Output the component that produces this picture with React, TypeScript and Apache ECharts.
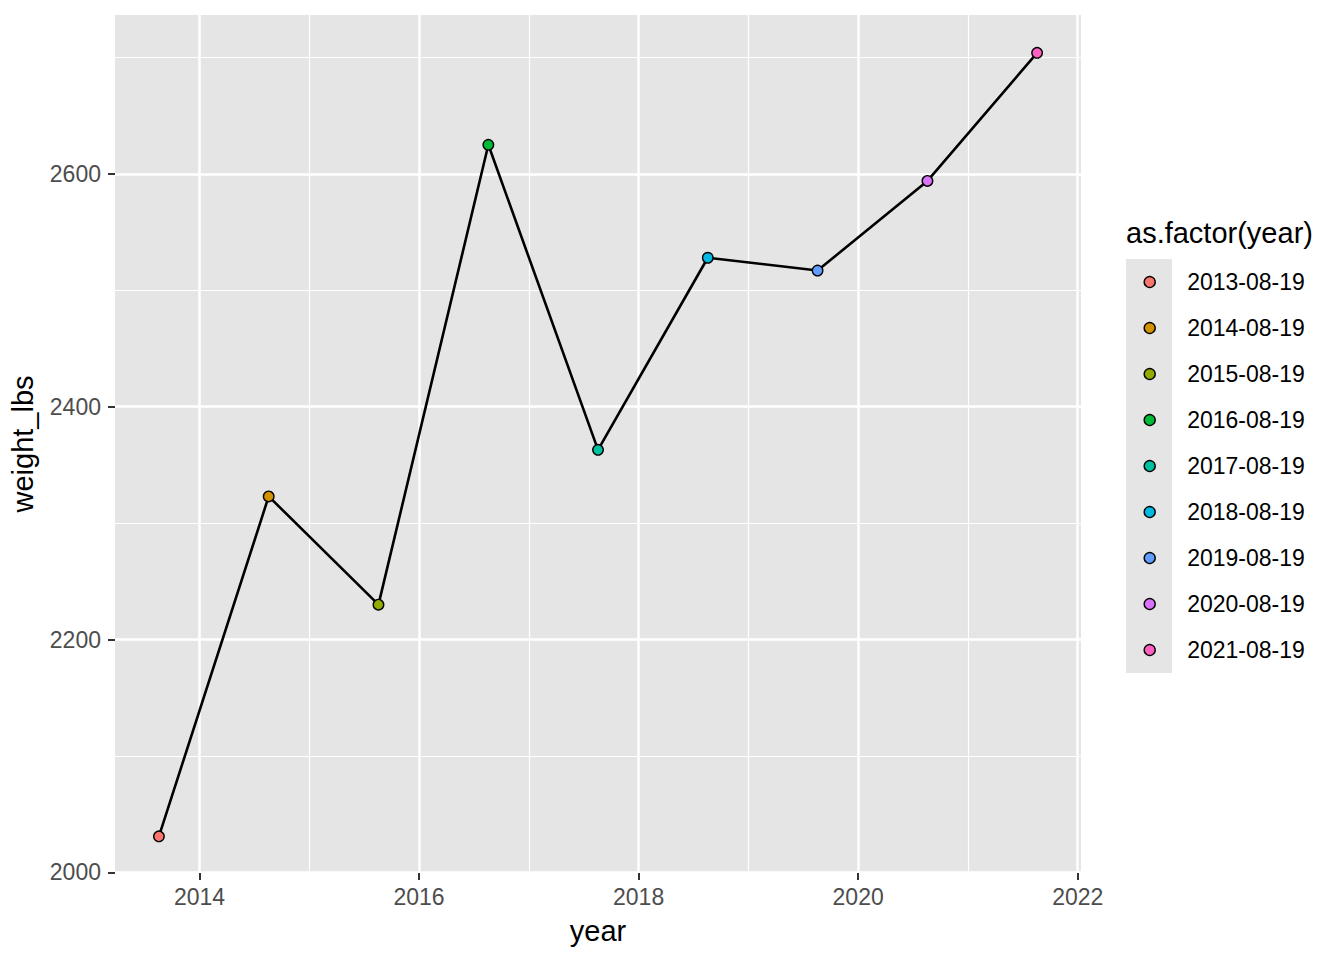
import React, { useEffect, useRef } from "react";
import * as echarts from "echarts";

const dates = [
  "2013-08-19", "2014-08-19", "2015-08-19", "2016-08-19", "2017-08-19",
  "2018-08-19", "2019-08-19", "2020-08-19", "2021-08-19",
];
const weights = [2031, 2323, 2230, 2625, 2363, 2528, 2517, 2594, 2704];
const colors = [
  "#F8766D", "#D39200", "#93AA00", "#00BA38", "#00C19F",
  "#00B9E3", "#619CFF", "#DB72FB", "#FF61C3",
];
const xMajor = [2014, 2016, 2018, 2020, 2022];
const xMinor = [2015, 2017, 2019, 2021];
const yMajor = [2000, 2200, 2400, 2600];
const yMinor = [2100, 2300, 2500, 2700];

function decimalYear(d: string): number {
  const [y, m, day] = d.split("-").map(Number);
  const start = Date.UTC(y, 0, 1);
  const end = Date.UTC(y + 1, 0, 1);
  const t = Date.UTC(y, m - 1, day);
  return y + (t - start) / (end - start);
}

const FONT = "Liberation Sans, Arial, Helvetica, sans-serif";
const PANEL = "#E5E5E5";

export default function App() {
  const ref = useRef<HTMLDivElement>(null);
  useEffect(() => {
    if (!ref.current) return;
    const chart = echarts.init(ref.current, undefined, { renderer: "svg" });
    const xs = dates.map(decimalYear);
    const X_MIN = 2013.23;
    const X_MAX = 2022.03;
    const Y_MIN = 1999.5;
    const Y_MAX = 2736.5;

    const pointSeries = dates.map((d, i) => ({
      name: d,
      type: "scatter",
      xAxisIndex: 0,
      yAxisIndex: 0,
      symbol: "circle",
      symbolSize: 10.5,
      z: 5,
      itemStyle: { color: colors[i], borderColor: "#000", borderWidth: 1.4, opacity: 1 },
      data: [[xs[i], weights[i]]],
    }));

    const option: any = {
      animation: false,
      textStyle: { fontFamily: FONT },
      grid: {
        left: 115,
        top: 15,
        width: 966,
        height: 858,
        show: true,
        backgroundColor: PANEL,
        borderWidth: 0,
        containLabel: false,
      },
      xAxis: [
        {
          type: "value",
          min: X_MIN,
          max: X_MAX,
          name: "year",
          nameLocation: "middle",
          nameGap: 43,
          nameTextStyle: { fontFamily: FONT, fontSize: 29, color: "#000" },
          axisLine: { show: false },
          axisTick: {
            show: true,
            length: 7,
            lineStyle: { color: "#333333", width: 2 },
            customValues: xMajor,
          },
          axisLabel: {
            show: true,
            customValues: xMajor,
            fontFamily: FONT,
            fontSize: 23,
            color: "#4D4D4D",
            margin: 12,
            formatter: (v: number) => String(Math.round(v)),
          },
          splitLine: { show: true, lineStyle: { color: "#FFFFFF", width: 2.5 } },
        },
        {
          type: "value",
          min: X_MIN,
          max: X_MAX,
          axisLine: { show: false },
          axisTick: { show: false, customValues: xMinor },
          axisLabel: { show: false, customValues: xMinor },
          splitLine: { show: true, lineStyle: { color: "#FFFFFF", width: 1.2 } },
        },
      ],
      yAxis: [
        {
          type: "value",
          min: Y_MIN,
          max: Y_MAX,
          name: "weight_lbs",
          nameLocation: "middle",
          nameGap: 78,
          nameRotate: 90,
          nameTextStyle: { fontFamily: FONT, fontSize: 29, color: "#000" },
          axisLine: { show: false },
          axisTick: {
            show: true,
            length: 7,
            lineStyle: { color: "#333333", width: 2 },
            customValues: yMajor,
          },
          axisLabel: {
            show: true,
            customValues: yMajor,
            fontFamily: FONT,
            fontSize: 23,
            color: "#4D4D4D",
            margin: 14,
            formatter: (v: number) => String(Math.round(v)),
          },
          splitLine: { show: true, lineStyle: { color: "#FFFFFF", width: 2.5 } },
        },
        {
          type: "value",
          min: Y_MIN,
          max: Y_MAX,
          axisLine: { show: false },
          axisTick: { show: false, customValues: yMinor },
          axisLabel: { show: false, customValues: yMinor },
          splitLine: { show: true, lineStyle: { color: "#FFFFFF", width: 1.2 } },
        },
      ],
      legend: {
        orient: "vertical",
        left: 1138.5,
        top: 265.5,
        itemWidth: 11,
        itemHeight: 11,
        itemGap: 23,
        icon: "circle",
        data: dates,
        itemStyle: { borderColor: "#000", borderWidth: 1.4 },
        textStyle: {
          fontFamily: FONT,
          fontSize: 23,
          color: "#000",
          padding: [0, 0, 0, 27],
        },
        selectedMode: false,
      },
      graphic: [
        {
          type: "rect",
          left: 1126,
          top: 259,
          shape: { width: 46, height: 414 },
          style: { fill: PANEL },
          z: -10,
          silent: true,
        },
        {
          type: "text",
          left: 1126,
          top: 218,
          style: {
            text: "as.factor(year)",
            fontFamily: FONT,
            fontSize: 29,
            fill: "#000",
          },
        },
      ],
      series: [
        {
          name: "line",
          type: "line",
          xAxisIndex: 0,
          yAxisIndex: 0,
          showSymbol: false,
          symbol: "none",
          z: 3,
          lineStyle: { color: "#000", width: 2.6 },
          data: xs.map((x, i) => [x, weights[i]]),
        },
        ...pointSeries,
      ],
    };
    chart.setOption(option);
    return () => chart.dispose();
  }, []);
  return (
    <div
      ref={ref}
      style={{ position: "fixed", left: 0, top: 0, width: 1344, height: 960, background: "#fff" }}
    />
  );
}
